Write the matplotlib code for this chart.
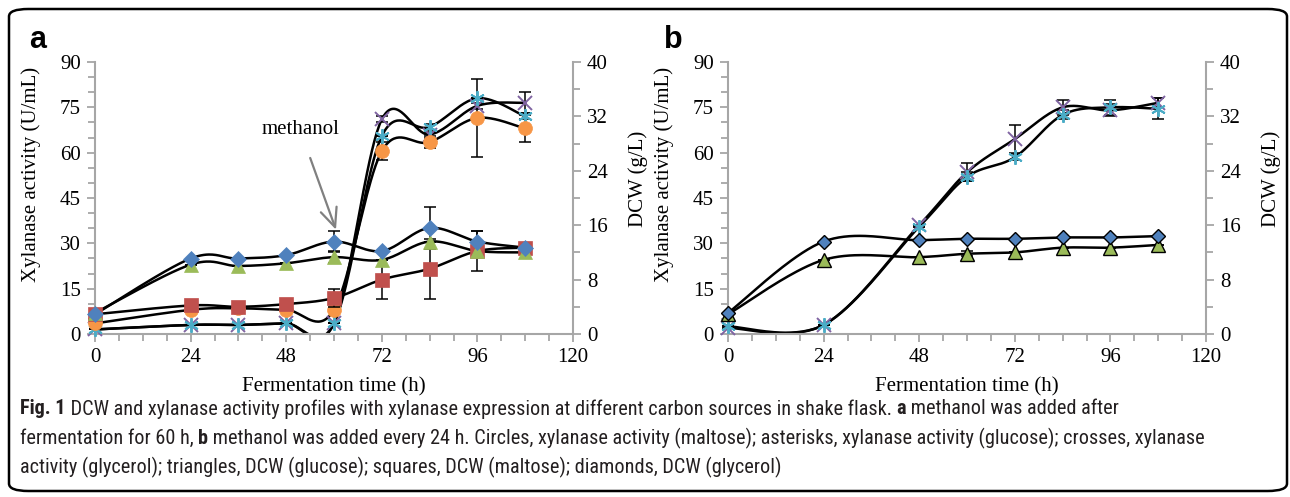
import numpy as np
import matplotlib.pyplot as plt
from matplotlib.patches import FancyBboxPatch
from matplotlib import font_manager

# ---- panel a data (methanol after 60 h)
ta = [0, 24, 36, 48, 60, 72, 84, 96, 108]
a_circ = [3.5, 8, 8.5, 8, 8, 60.5, 63.5, 71.5, 68]          # xylanase, maltose
a_circ_err = [0, 0, 0, 0, 0, 3, 2, 13, 4.5]
a_ast = [1.5, 3, 3, 3.5, 3.5, 65.5, 68.5, 78, 72]           # xylanase, glucose
a_ast_err = [0, 0, 0, 0, 0, 0, 1, 0, 1]
a_cross = [1.5, 3, 3, 3.5, 3.5, 71, 66, 75.5, 76.5]         # xylanase, glycerol
a_cross_err = [0, 0, 0, 0, 0, 1, 1, 1, 3.5]
a_diam = [2.9, 11.1, 11.1, 11.6, 13.6, 12.2, 15.6, 13.6, 12.7]   # DCW glycerol
a_diam_err = [0, 0, 0, 0, 1.6, 0, 3.1, 1.6, 0]
a_tri = [3.1, 10.2, 10.0, 10.4, 11.3, 10.9, 13.6, 12.2, 12.0]    # DCW glucose
a_tri_err = [0, 0, 0, 0, 0.9, 0, 0, 2.9, 0]
a_sq = [2.9, 4.2, 4.0, 4.4, 5.3, 8.0, 9.6, 12.2, 12.7]           # DCW maltose
a_sq_err = [0, 0, 0, 0, 1.3, 2.9, 4.4, 0, 0]

# ---- panel b data (methanol every 24 h)
tb = [0, 24, 48, 60, 72, 84, 96, 108]
b_cross = [2, 3, 36, 53.5, 64.5, 75, 74, 76.5]
b_cross_err = [0, 0, 0, 3, 4.5, 2.5, 2, 1.5]
b_ast = [2.5, 3, 35.5, 52, 58.5, 72.5, 75, 74.5]
b_ast_err = [0, 0, 0, 1.5, 1, 1.5, 2.5, 3.5]
b_diam = [3.1, 13.6, 13.8, 14.0, 14.0, 14.2, 14.2, 14.4]
b_tri = [2.9, 10.9, 11.3, 11.8, 12.0, 12.7, 12.7, 13.1]
b_tri_err = [0, 0, 0, 0.4, 0, 0, 0, 0]

W, H = 1290, 497
BLUE, RED, GREEN = '#4F81BD', '#C0504D', '#9BBB59'
PURPLE, AQUA, ORANGE = '#8064A2', '#4BACC6', '#F79646'
GREY = '#a6a6a6'
SERIF = 'Liberation Serif'
FS = 15

fig = plt.figure(figsize=(W / 100, H / 100), dpi=100)


def smooth(x, y, xs, ys, n=40):
    # excel style smoothed line (catmull-rom bezier), done in pixel-like space
    pts = np.column_stack([np.array(x) / xs, np.array(y) / ys])
    ext = np.vstack([pts[0], pts, pts[-1]])
    t = np.linspace(0, 1, n)[:, None]
    out = []
    for i in range(len(pts) - 1):
        p0, p1, p2, p3 = ext[i], ext[i + 1], ext[i + 2], ext[i + 3]
        c1 = p1 + (p2 - p0) / 6
        c2 = p2 - (p3 - p1) / 6
        out.append((1 - t) ** 3 * p1 + 3 * (1 - t) ** 2 * t * c1 + 3 * (1 - t) * t ** 2 * c2 + t ** 3 * p2)
    out = np.vstack(out)
    return out[:, 0] * xs, out[:, 1] * ys


def series(ax, x, y, err, ymax, marker, color, ms, edge, wpx=478, hpx=272):
    sx, sy = smooth(x, y, 120 / wpx, ymax / hpx)
    ax.plot(sx, sy, color='black', lw=1.8, zorder=2)
    if err is not None:
        ax.errorbar(x, y, yerr=err, fmt='none', ecolor='black', elinewidth=1.1,
                    capsize=4, capthick=1.1, zorder=3, clip_on=False)
    if marker in ('x', (6, 2, 0)):
        ax.plot(x, y, ls='none', marker=marker, ms=ms, mew=1.4, color=color, zorder=4, clip_on=False)
    else:
        ax.plot(x, y, ls='none', marker=marker, ms=ms, mfc=color,
                mec=edge if edge else color, mew=1.0 if edge else 0.5, zorder=4, clip_on=False)


def setup(left):
    ax = fig.add_axes([left / W, (H - 334) / H, 478 / W, 272 / H])
    ax2 = ax.twinx()
    ax.set_xlim(0, 120)
    ax.set_ylim(0, 90)
    ax2.set_ylim(0, 40)
    ax.set_xticks(range(0, 121, 24))
    ax.set_xticks(range(0, 121, 6), minor=True)
    ax.set_yticks(range(0, 91, 15))
    ax.set_yticks(range(0, 91, 5), minor=True)
    ax2.set_yticks(range(0, 41, 8))
    ax2.set_yticks(range(0, 41, 4), minor=True)
    for a in (ax, ax2):
        a.set_facecolor('none')
        a.spines['top'].set_visible(False)
        for s in ('left', 'right', 'bottom'):
            a.spines[s].set_color(GREY)
            a.spines[s].set_linewidth(1.5)
        a.tick_params(which='both', color=GREY, width=1.3, direction='out')
        a.tick_params(which='major', length=6, labelsize=FS, pad=4)
        a.tick_params(which='minor', length=5)
        for lab in a.get_xticklabels() + a.get_yticklabels():
            lab.set_fontfamily(SERIF)
    ax.spines['right'].set_visible(False)
    ax2.spines['left'].set_visible(False)
    ax2.spines['bottom'].set_visible(False)
    ax.set_ylabel('Xylanase activity (U/mL)', fontsize=FS, family=SERIF)
    ax.yaxis.set_label_coords(-0.112, 0.585)
    ax2.set_ylabel('DCW (g/L)', fontsize=FS, family=SERIF)
    ax2.yaxis.set_label_coords(1.115, 0.57)
    ax.set_xlabel('Fermentation time (h)', fontsize=FS, family=SERIF)
    ax.xaxis.set_label_coords(0.5, -0.16)
    return ax, ax2


ASTER = (6, 2, 0)

# panel a
ax, ax2 = setup(95)
series(ax, ta, a_cross, a_cross_err, 90, 'x', PURPLE, 9.5, None)
series(ax, ta, a_ast, a_ast_err, 90, ASTER, AQUA, 10.5, None)
series(ax, ta, a_circ, a_circ_err, 90, 'o', ORANGE, 10, None)
series(ax2, ta, a_sq, a_sq_err, 40, 's', RED, 9.5, None)
series(ax2, ta, a_tri, a_tri_err, 40, '^', GREEN, 10, None)
series(ax2, ta, a_diam, a_diam_err, 40, 'D', BLUE, 8, None)
ax.annotate('methanol', xy=(60.5, 34.5), xytext=(51.5, 67.5), fontsize=FS, family=SERIF,
            ha='center', va='center',
            arrowprops=dict(arrowstyle='->,head_length=0.9,head_width=0.4', color='#808080',
                            lw=1.6, shrinkA=12, shrinkB=0))

# panel b
bx, bx2 = setup(728)
series(bx, tb, b_cross, b_cross_err, 90, 'x', PURPLE, 9.5, None)
series(bx, tb, b_ast, b_ast_err, 90, ASTER, AQUA, 10.5, None)
series(bx2, tb, b_tri, b_tri_err, 40, '^', GREEN, 9.5, 'black')
series(bx2, tb, b_diam, None, 40, 'D', BLUE, 7.5, 'black')

# panel letters
fig.text(29 / W, 1 - 40 / H, 'a', fontsize=22, fontweight='bold', family='Liberation Sans', va='center')
fig.text(664 / W, 1 - 40 / H, 'b', fontsize=22, fontweight='bold', family='Liberation Sans', va='center')

# frame
fig.patches.append(FancyBboxPatch((9 / W, 6 / H), 1278 / W, 482 / H,
                                  boxstyle='round,pad=0,rounding_size=0.015',
                                  transform=fig.transFigure, fill=False, ec='black', lw=1.8))

# caption
names = {f.name for f in font_manager.fontManager.ttflist}
cap_font = 'DejaVu Sans'
for cand in ['Liberation Sans Narrow', 'Roboto Condensed', 'Open Sans Condensed', 'Noto Sans', 'Liberation Sans']:
    if cand in names:
        cap_font = cand
        break

cap_lines = [
    [('Fig. 1', True),
     (' DCW and xylanase activity profiles with xylanase expression at different carbon sources in shake flask. ', False),
     ('a', True), (' methanol was added after', False)],
    [('fermentation for 60 h, ', False), ('b', True),
     (' methanol was added every 24 h. Circles, xylanase activity (maltose); asterisks, xylanase activity (glucose); crosses, xylanase', False)],
    [('activity (glycerol); triangles, DCW (glucose); squares, DCW (maltose); diamonds, DCW (glycerol)', False)],
]
cap_y = [409, 438, 467]
cap_target = [1123, 1247, 792]
renderer = fig.canvas.get_renderer()


def draw_caption(size):
    texts, widths = [], []
    for parts, y in zip(cap_lines, cap_y):
        x = 20
        for s, bold in parts:
            t = fig.text(x / W, 1 - y / H, s, fontsize=size, fontweight='bold' if bold else 'normal',
                         family=cap_font, va='center', ha='left', color='#231f20')
            x += t.get_window_extent(renderer).width
            texts.append(t)
        widths.append(x - 20)
    return texts, widths


texts, widths = draw_caption(12)
size = 12 * sum(cap_target) / sum(widths)
for t in texts:
    t.remove()
draw_caption(min(size, 14.6))

fig.savefig('out.png', dpi=100)
